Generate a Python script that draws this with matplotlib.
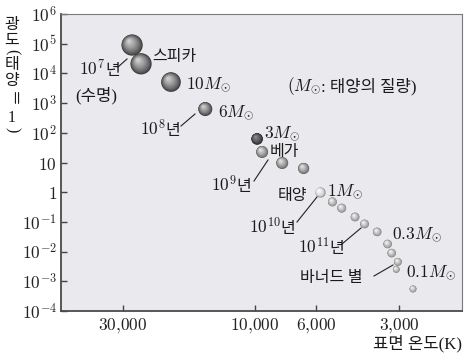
import numpy as np
import matplotlib
matplotlib.use("Agg")
import matplotlib.pyplot as plt
from matplotlib import transforms
from matplotlib.colors import to_rgb

plt.rcParams["mathtext.fontset"] = "cm"

# Main-sequence stars: surface temperature (K) and luminosity (Sun = 1)
temperature = [27800, 25800, 20100, 15100, 9800, 9400, 7950, 6650, 5800,
               5230, 4840, 4330, 4000, 3600, 3300, 3190, 3030, 3070, 2670]
luminosity = [9.0e4, 2.1e4, 5.1e3, 630, 62, 22.6, 9.6, 6.3, 1.0,
              0.47, 0.29, 0.146, 0.085, 0.046, 0.018, 0.0089, 0.0045, 0.0025, 0.00055]

x_ticks = [30000, 10000, 6000, 3000]
x_tick_labels = ["$30{,}000$", "$10{,}000$", "$6{,}000$", "$3{,}000$"]
y_exponents = [-4, -3, -2, -1, 0, 1, 2, 3, 4, 5, 6]
y_tick_labels = ["$10^{-4}$", "$10^{-3}$", "$10^{-2}$", "$10^{-1}$", "$1$", "$10$",
                 "$10^{2}$", "$10^{3}$", "$10^{4}$", "$10^{5}$", "$10^{6}$"]

# drawing style per star: radius in pixels and (rim, highlight) shades
radius_px = [10.6, 10.6, 9.8, 7.0, 5.8, 6.0, 6.0, 5.6, 4.6,
             4.5, 4.5, 4.4, 4.4, 4.3, 4.3, 4.3, 4.0, 3.4, 3.5]
shade = (["big"] * 4 + ["dark"] + ["mid"] * 3 + ["sun"] + ["light"] * 10)
palette = {
    "big": ("#3a3a3a", "#cfcfcf"),
    "dark": ("#262626", "#8c8c8c"),
    "mid": ("#626262", "#e2e2e2"),
    "sun": ("#c4c4c4", "#ffffff"),
    "light": ("#858585", "#f4f4f4"),
}

W, H, DPI = 466, 353, 100
fig = plt.figure(figsize=(W / DPI, H / DPI), dpi=DPI)
ax = fig.add_axes([61 / W, (H - 311) / H, 401 / W, 297 / H])
ax.set_facecolor("#e9e9ee")

ax.set_xscale("log")
ax.set_yscale("log")
ax.set_xlim(50300, 1775)
ax.set_ylim(1e-4, 1e6)

ax.set_xticks(x_ticks)
ax.set_xticklabels(x_tick_labels)
ax.set_yticks([10.0 ** e for e in y_exponents])
ax.set_yticklabels(y_tick_labels)
ax.minorticks_off()
ax.tick_params(axis="both", direction="in", length=4.5, width=1.0, color="#444444",
               labelsize=12.5, labelcolor="#222222")
ax.tick_params(axis="x", pad=4)
ax.tick_params(axis="y", pad=3)

for side in ("left", "bottom"):
    ax.spines[side].set_color("#4a4a4a")
    ax.spines[side].set_linewidth(1.3)
for side in ("top", "right"):
    ax.spines[side].set_color("#7a7a7a")
    ax.spines[side].set_linewidth(0.8)


def sphere(t, lum, r_px, rim, high, n=20, outline=None):
    d = 2 * r_px * 72 / DPI
    e = np.array(to_rgb(rim))
    h = np.array(to_rgb(high))
    for k in range(n):
        u = k / (n - 1)
        f = 1 - 0.9 * u
        c = e + (h - e) * (u ** 0.75)
        off = (1 - f) * d / 2 * 0.42
        tr = transforms.offset_copy(ax.transData, fig=fig, x=-0.8 * off, y=off,
                                    units="points")
        lw = 0
        ec = "none"
        if outline is not None and k == 0:
            lw, ec = 0.7, outline
        ax.scatter([t], [lum], s=(d * f) ** 2, color=c, edgecolors=ec,
                   linewidths=lw, transform=tr, zorder=3 + k * 0.01)


for t, lum, r, s in zip(temperature, luminosity, radius_px, shade):
    rim, high = palette[s]
    sphere(t, lum, r, rim, high, outline="#8a8a8a" if s == "sun" else None)

# layout coordinates in pixels, measured from the top-left corner of the figure
pix = transforms.Affine2D().scale(1 / W, -1 / H).translate(0, 1) + fig.transFigure
renderer = fig.canvas.get_renderer()
inv = pix.inverted()

KR = ["Noto Sans CJK KR"]
MIX = ["Liberation Serif", "Noto Sans CJK KR"]
MATH_SIZE = 12.5
KR_SIZE = 11.5


def runs(x, y, parts):
    cx = x
    for txt, kind in parts:
        if kind == "m":
            kw = dict(fontsize=MATH_SIZE)
        elif kind == "k":
            kw = dict(fontsize=KR_SIZE, family=KR)
        else:
            kw = dict(fontsize=KR_SIZE + 0.5, family=MIX)
        t = fig.text(cx, y, txt, transform=pix, va="baseline", ha="left",
                     color="#1a1a1a", **kw)
        bb = t.get_window_extent(renderer=renderer)
        cx = inv.transform((bb.x1, bb.y0))[0]


def leader(x0, y0, x1, y1):
    fig.add_artist(plt.Line2D([x0, x1], [y0, y1], transform=pix, color="#222222",
                              lw=0.8))


runs(152, 61, [("스피카", "k")])
runs(79, 75, [("$10^{7}$", "m"), ("년", "k")])
runs(75, 100, [("(수명)", "x")])
leader(118, 67, 127, 59)
runs(186, 88, [(r"$10M_{\odot}$", "m")])
runs(218, 116, [(r"$6M_{\odot}$", "m")])
runs(140, 135, [("$10^{8}$", "m"), ("년", "k")])
leader(181, 126, 195, 114)
runs(287, 91, [(r"$(M_{\odot}$", "m"), (": 태양의 질량)", "x")])
runs(264, 137, [(r"$3M_{\odot}$", "m")])
runs(270, 156, [("베가", "k")])
runs(211, 191, [("$10^{9}$", "m"), ("년", "k")])
leader(254, 181, 268, 160)
runs(278, 200, [("태양", "k")])
runs(327, 195, [(r"$1M_{\odot}$", "m")])
runs(249, 233, [("$10^{10}$", "m"), ("년", "k")])
leader(297, 222, 317, 197)
runs(298, 253, [("$10^{11}$", "m"), ("년", "k")])
leader(342, 244, 361, 228)
runs(392, 238, [(r"$0.3M_{\odot}$", "m")])
runs(406, 276, [(r"$0.1M_{\odot}$", "m")])
runs(300, 282, [("바너드 별", "k")])
leader(374, 276, 393, 265)

# axis titles
fig.text(462, 348, "표면 온도(K)", transform=pix, ha="right", va="baseline",
         fontsize=KR_SIZE + 0.5, family=MIX, color="#1a1a1a")

vertical = [("광", 24, 0), ("도", 40, 0), ("(", 52, -90), ("태", 64, 0), ("양", 80, 0),
            ("＝", 99, -90), ("1", 118, 0), (")", 130, -90)]
for ch, yy, rot in vertical:
    fam = MIX if ch in "()1" else KR
    fig.text(12, yy, ch, transform=pix, ha="center", va="center", rotation=rot,
             rotation_mode="anchor", fontsize=KR_SIZE, family=fam, color="#1a1a1a")

fig.savefig("out.png", dpi=DPI)
